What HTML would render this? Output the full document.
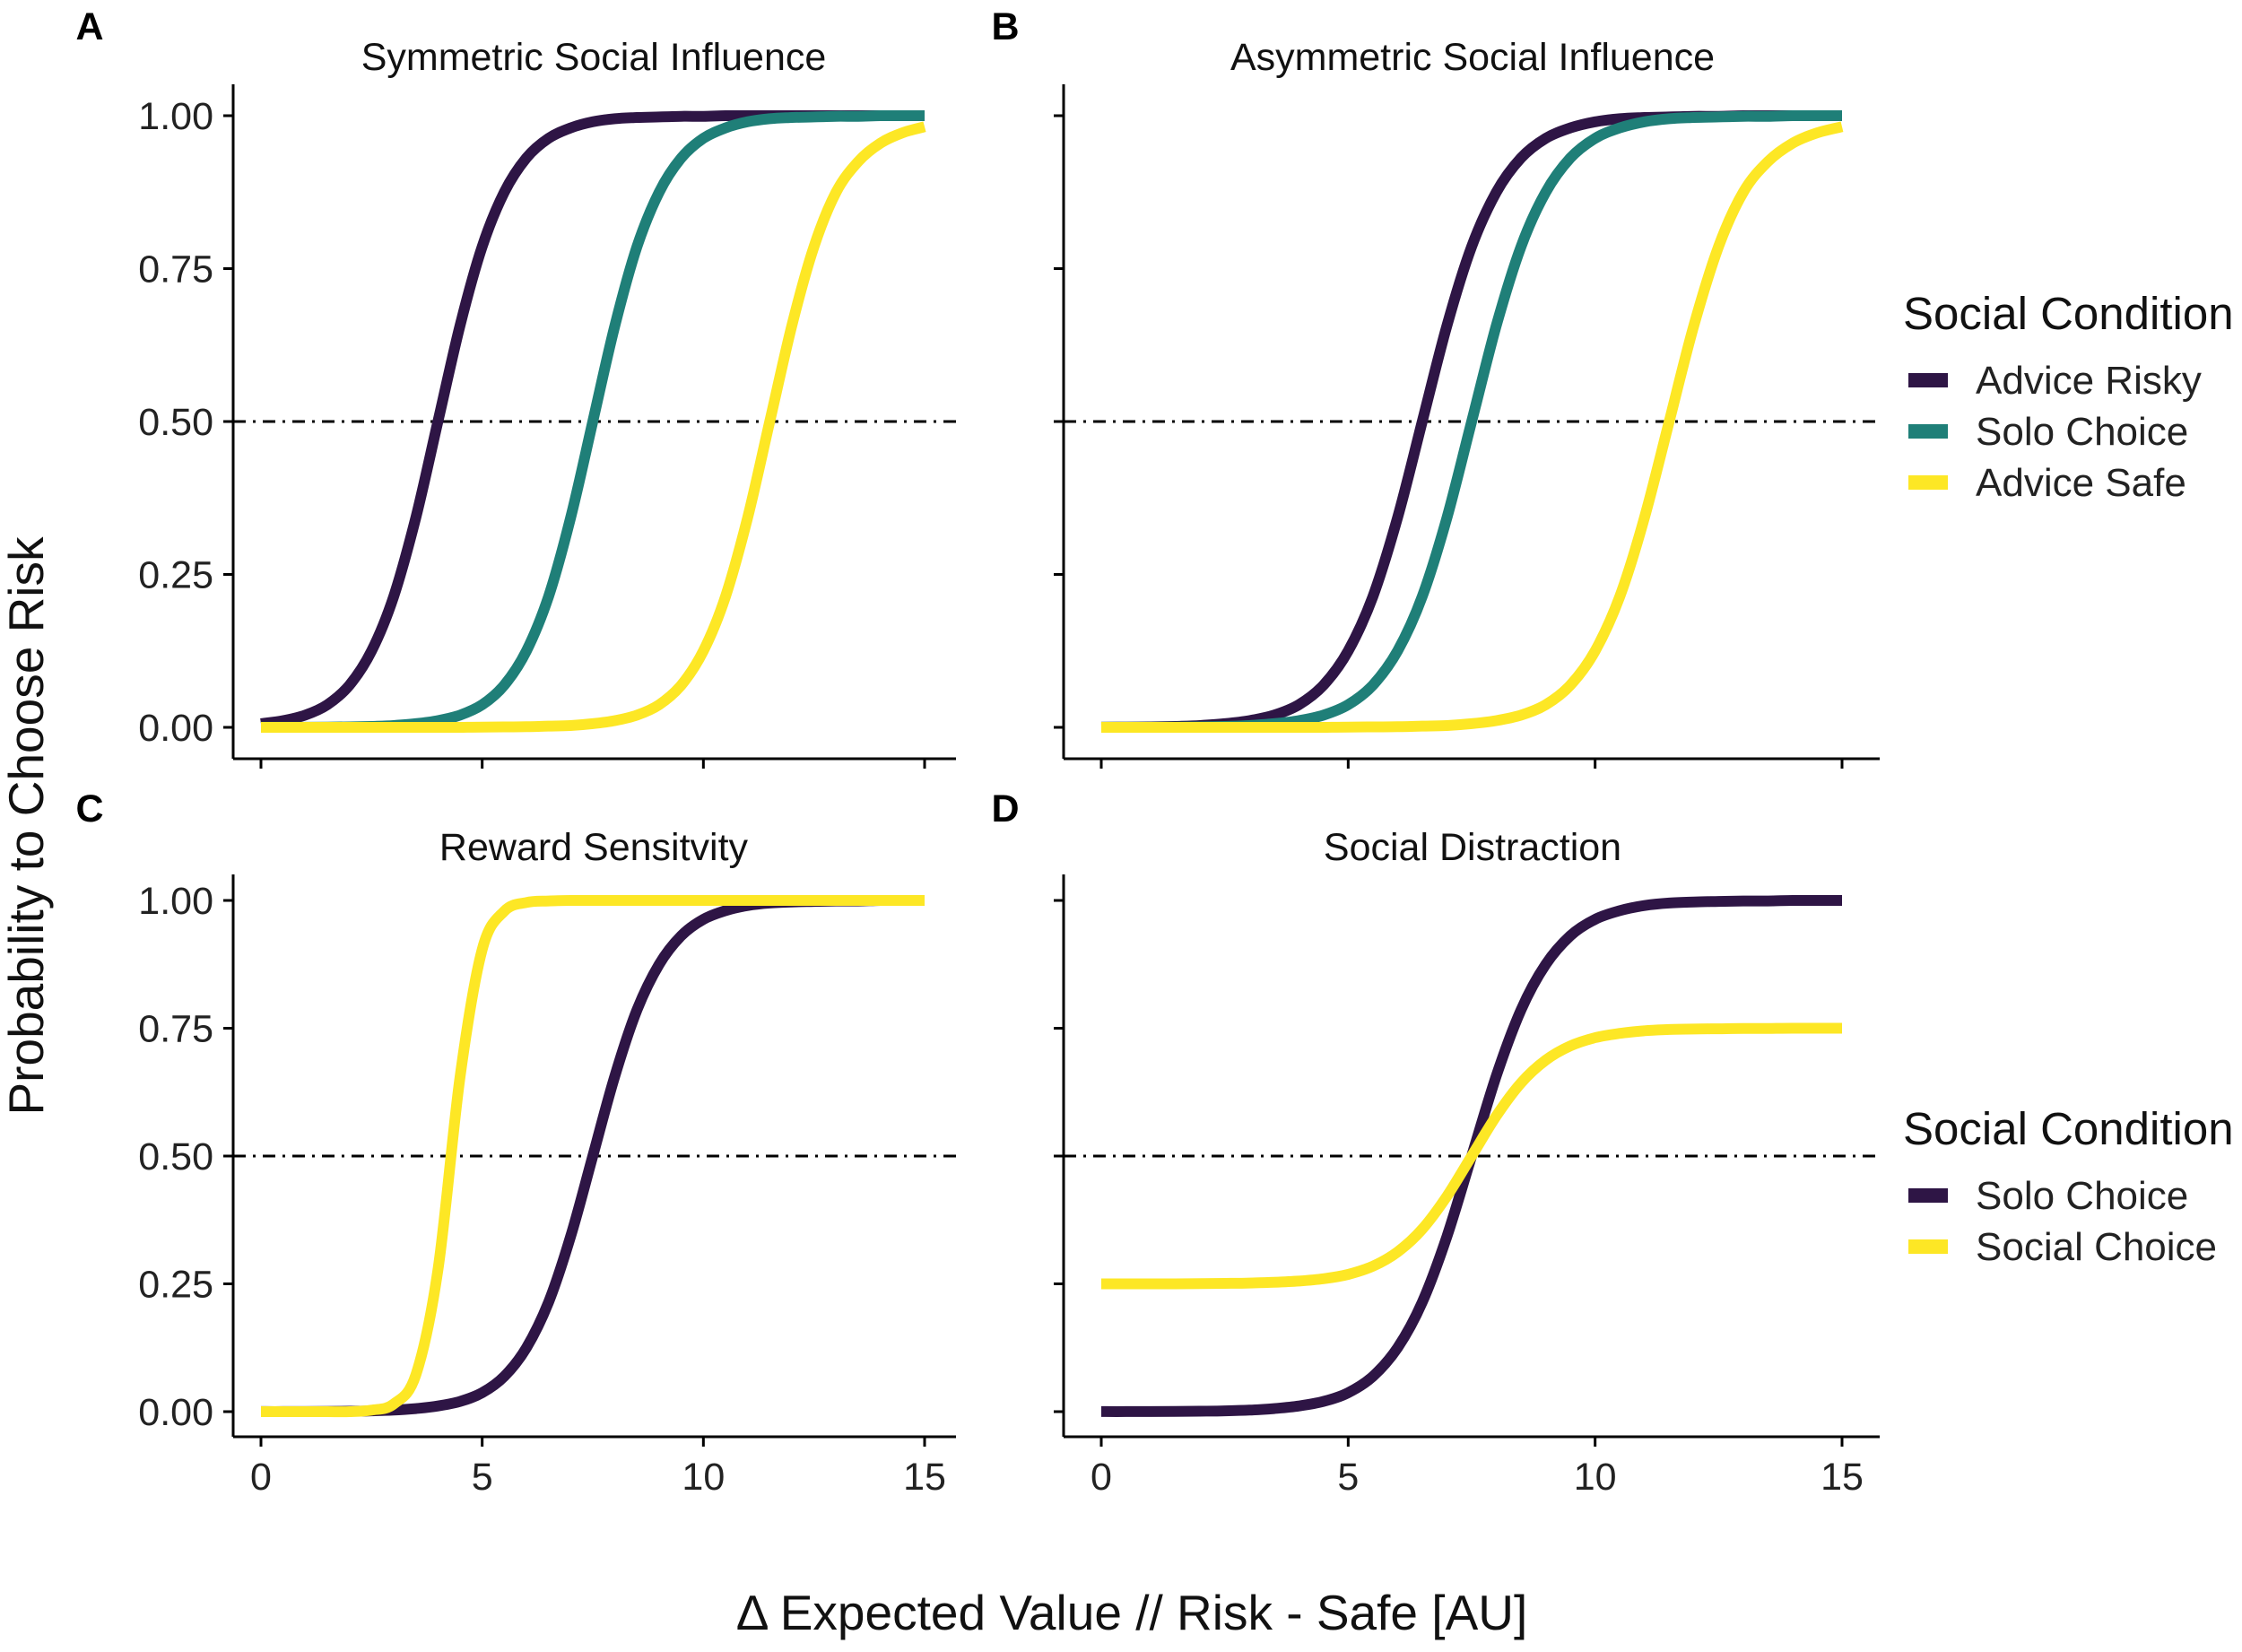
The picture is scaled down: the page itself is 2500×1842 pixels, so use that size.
<!DOCTYPE html>
<html><head><meta charset="utf-8">
<style>
html,body{margin:0;padding:0;background:#fff;}
svg{display:block;font-family:"Liberation Sans",Arial,sans-serif;}
</style></head>
<body>
<svg id="fig" width="2500" height="1842" viewBox="0 0 2500 1842" xmlns="http://www.w3.org/2000/svg">
<rect width="2500" height="1842" fill="#fff"/>
<g id="root"></g>
</svg>
<script>
const xs = [0,0.5,1,1.5,2,2.5,3,3.5,4,4.5,5,5.5,6,6.5,7,7.5,8,8.5,9,9.5,10,10.5,11,11.5,12,12.5,13,13.5,14,14.5,15];
const yTicks = [0,0.25,0.5,0.75,1];
const yTickLabels = ["0.00","0.25","0.50","0.75","1.00"];
const xTicks = [0,5,10,15];
const xTickLabels = ["0","5","10","15"];
const refLine = 0.5;

const aRisky = [0.006,0.011,0.02,0.037,0.069,0.125,0.214,0.343,0.5,0.657,0.786,0.875,0.931,0.963,0.98,0.99,0.995,0.997,0.998,0.999,0.999,1,1,1,1,1,1,1,1,1,1];
const aSolo = [0.0001,0.0001,0.0002,0.0004,0.0008,0.0015,0.003,0.006,0.011,0.02,0.037,0.069,0.125,0.214,0.343,0.5,0.657,0.786,0.875,0.931,0.963,0.98,0.99,0.995,0.997,0.998,0.999,0.999,1,1,1];
const aSafe = [0,0,0,0,0,0,0,0,0,0,0.0005,0.0008,0.001,0.002,0.003,0.006,0.011,0.02,0.037,0.069,0.125,0.214,0.343,0.5,0.657,0.786,0.875,0.925,0.955,0.972,0.982];
const bRisky = [0.0002,0.0004,0.0008,0.0015,0.003,0.006,0.011,0.02,0.037,0.069,0.125,0.214,0.343,0.5,0.657,0.786,0.875,0.931,0.963,0.98,0.99,0.995,0.997,0.998,0.999,0.999,1,1,1,1,1];
const bSolo = [0.0001,0.0001,0.0002,0.0004,0.0008,0.0015,0.003,0.006,0.011,0.02,0.037,0.069,0.125,0.214,0.343,0.5,0.657,0.786,0.875,0.931,0.963,0.98,0.99,0.995,0.997,0.998,0.999,0.999,1,1,1];
const bSafe = [0,0,0,0,0,0,0,0,0,0,0.0005,0.0008,0.001,0.002,0.003,0.006,0.011,0.02,0.037,0.069,0.125,0.214,0.343,0.5,0.657,0.786,0.875,0.925,0.955,0.972,0.982];
const cSolo = [0.0001,0.0001,0.0002,0.0004,0.0008,0.0015,0.003,0.006,0.011,0.02,0.037,0.069,0.125,0.214,0.343,0.5,0.657,0.786,0.875,0.931,0.963,0.98,0.99,0.995,0.997,0.998,0.999,0.999,1,1,1];
const cSocial = [0,0,0,0,0,0.003,0.015,0.072,0.277,0.655,0.904,0.979,0.996,0.999,1,1,1,1,1,1,1,1,1,1,1,1,1,1,1,1,1];
const dSolo = [0.0001,0.0001,0.0002,0.0004,0.0008,0.0015,0.003,0.006,0.011,0.02,0.037,0.069,0.125,0.214,0.343,0.5,0.657,0.786,0.875,0.931,0.963,0.98,0.99,0.995,0.997,0.998,0.999,0.999,1,1,1];
const dSocial = [0.25,0.25,0.25,0.25,0.2504,0.2508,0.2515,0.253,0.2555,0.26,0.2685,0.2845,0.3125,0.357,0.4215,0.5,0.5785,0.643,0.6875,0.7155,0.7315,0.74,0.745,0.7475,0.7485,0.749,0.7495,0.7495,0.75,0.75,0.75];

const PURPLE="#2e1545", TEAL="#1f7f78", YELLOW="#fde725";
const NS="http://www.w3.org/2000/svg";
const root=document.getElementById('root');
function mk(tag,attrs,parent,text){const e=document.createElementNS(NS,tag);for(const k in attrs)e.setAttribute(k,attrs[k]);if(text!==undefined)e.textContent=text;(parent||root).appendChild(e);return e;}

const panels=[
 {id:'a',letter:'A',title:'Symmetric Social Influence',x0:291,x15:1031,axL:260,axR:1066,y1:129,y0:811,axB:846,axT:94,ylab:true,xlab:false,lx:100,ly:29,tx:662,ty:63,
  series:[['advice-risky',aRisky,PURPLE],['solo-choice',aSolo,TEAL],['advice-safe',aSafe,YELLOW]]},
 {id:'b',letter:'B',title:'Asymmetric Social Influence',x0:1228,x15:2054,axL:1186,axR:2096,y1:129,y0:811,axB:846,axT:94,ylab:false,xlab:false,lx:1121,ly:29,tx:1642,ty:63,
  series:[['advice-risky',bRisky,PURPLE],['solo-choice',bSolo,TEAL],['advice-safe',bSafe,YELLOW]]},
 {id:'c',letter:'C',title:'Reward Sensitvity',x0:291,x15:1031,axL:260,axR:1066,y1:1004,y0:1574,axB:1602,axT:975,ylab:true,xlab:true,lx:100,ly:901,tx:662,ty:944,
  series:[['solo-choice',cSolo,PURPLE],['social-choice',cSocial,YELLOW]]},
 {id:'d',letter:'D',title:'Social Distraction',x0:1228,x15:2054,axL:1186,axR:2096,y1:1004,y0:1574,axB:1602,axT:975,ylab:false,xlab:true,lx:1121,ly:901,tx:1642,ty:944,
  series:[['solo-choice',dSolo,PURPLE],['social-choice',dSocial,YELLOW]]}
];

panels.forEach(p=>{
  const sx=v=>p.x0+(p.x15-p.x0)*v/15;
  const sy=v=>p.y0+(p.y1-p.y0)*v;
  const g=mk('g',{});
  
  
  const L=mk('text',{x:p.lx,y:p.ly+15,'font-size':43,'font-weight':'bold','text-anchor':'middle',fill:'#000'},g,p.letter);
  
  
  const T=mk('text',{x:p.tx,y:p.ty+15,'font-size':43,'text-anchor':'middle',fill:'#111'},g,p.title);
  
  
  const ya=mk('line',{x1:p.axL,y1:p.axT,x2:p.axL,y2:p.axB,stroke:'#000','stroke-width':3},g);
  
  
  const xa=mk('line',{x1:p.axL,y1:p.axB,x2:p.axR,y2:p.axB,stroke:'#000','stroke-width':3},g);
  
  
  yTicks.forEach((t,i)=>{
    const tk=mk('line',{x1:p.axL-11,y1:sy(t),x2:p.axL,y2:sy(t),stroke:'#000','stroke-width':3},g);
    
    
    if(p.ylab){
      const tl=mk('text',{x:p.axL-22,y:sy(t)+15,'font-size':43,'text-anchor':'end',fill:'#222'},g,yTickLabels[i]);
      
      
    }
  });
  xTicks.forEach((t,i)=>{
    const tk=mk('line',{x1:sx(t),y1:p.axB,x2:sx(t),y2:p.axB+11,stroke:'#000','stroke-width':3},g);
    
    
    if(p.xlab){
      const tl=mk('text',{x:sx(t),y:p.axB+59,'font-size':43,'text-anchor':'middle',fill:'#222'},g,xTickLabels[i]);
      
      
    }
  });
  const rl=mk('line',{x1:p.axL,y1:sy(refLine),x2:p.axR,y2:sy(refLine),stroke:'#000','stroke-width':3,'stroke-dasharray':'14 8 3 8'},g);
  
  
  p.series.forEach(s=>{
    const ys=s[1];
    const pts=xs.map((x,i)=>[sx(x),sy(ys[i])]);
    let d='M'+pts[0][0].toFixed(1)+','+pts[0][1].toFixed(1);
    for(let i=0;i<pts.length-1;i++){
      const p0=pts[Math.max(0,i-1)],p1=pts[i],p2=pts[i+1],p3=pts[Math.min(pts.length-1,i+2)];
      const c1=[p1[0]+(p2[0]-p0[0])/6,p1[1]+(p2[1]-p0[1])/6];
      const c2=[p2[0]-(p3[0]-p1[0])/6,p2[1]-(p3[1]-p1[1])/6];
      d+=' C'+c1[0].toFixed(1)+','+c1[1].toFixed(1)+' '+c2[0].toFixed(1)+','+c2[1].toFixed(1)+' '+p2[0].toFixed(1)+','+p2[1].toFixed(1);
    }
    const path=mk('path',{d:d,fill:'none',stroke:s[2],'stroke-width':12},g);
    
    
  });
});

function legend(y0,entries){
  const g=mk('g',{});
  
  
  const t=mk('text',{x:2122,y:y0+18,'font-size':51,fill:'#111'},g,'Social Condition');
  
  
  entries.forEach((e,i)=>{
    const cy=y0+75+i*57;
    const r=mk('rect',{x:2128,y:cy-8,width:44,height:16,fill:e[1]},g);
    
    
    const l=mk('text',{x:2203,y:cy+15,'font-size':44,fill:'#222'},g,e[0]);
    
    
  });
}
legend(349,[['Advice Risky',PURPLE],['Solo Choice',TEAL],['Advice Safe',YELLOW]]);
legend(1258,[['Solo Choice',PURPLE],['Social Choice',YELLOW]]);

const yt=mk('text',{x:0,y:0,'font-size':55,'text-anchor':'middle',fill:'#111',transform:'translate(48,921) rotate(-90)'},root,'Probability to Choose Risk');


const xt=mk('text',{x:1262,y:1817,'font-size':55,'text-anchor':'middle',fill:'#111'},root,'Δ Expected Value // Risk - Safe [AU]');


</script>
</body></html>
